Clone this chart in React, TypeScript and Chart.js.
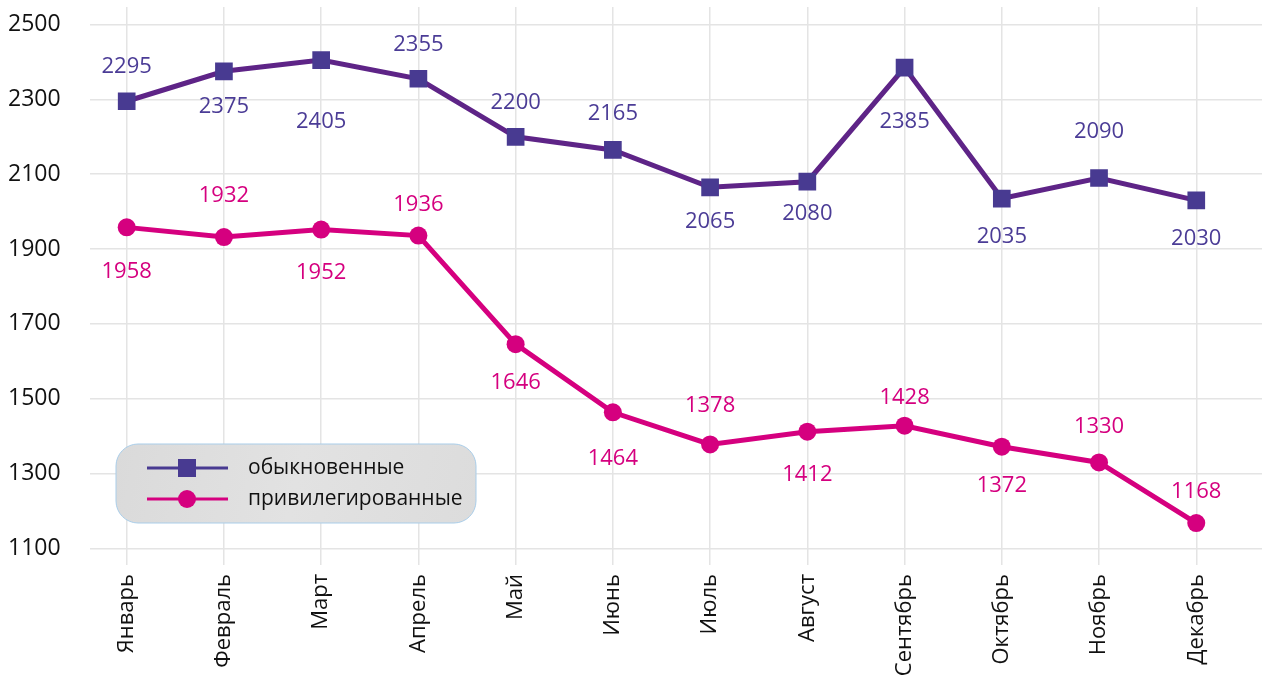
import React, { useEffect, useRef } from "react";
import { Chart, registerables } from "chart.js";

Chart.register(...registerables);

const months = ["Январь", "Февраль", "Март", "Апрель", "Май", "Июнь", "Июль", "Август", "Сентябрь", "Октябрь", "Ноябрь", "Декабрь"];
const ordinary = [2295, 2375, 2405, 2355, 2200, 2165, 2065, 2080, 2385, 2035, 2090, 2030];
const preferred = [1958, 1932, 1952, 1936, 1646, 1464, 1378, 1412, 1428, 1372, 1330, 1168];
const yTicks = [1100, 1300, 1500, 1700, 1900, 2100, 2300, 2500];
const seriesNames = ["обыкновенные", "привилегированные"];

// layout only: vertical pixel offset of each value label from its point
const ordinaryLabelDy = [-36, 34, 60, -36, -36, -38, 33, 30, 52, 36, -48, 37];
const preferredLabelDy = [43, -43, 41, -33, 37, 45, -40, 41, -30, 37, -37, -33];

const FONT = "'Open Sans', 'Noto Sans', sans-serif";
const PURPLE_LINE = "#5e2487";
const PURPLE_MARK = "#483a91";
const PURPLE_TEXT = "#4b3c96";
const PINK = "#d5007f";
const GRID = "#e4e4e4";

const valueLabels = {
  id: "valueLabels",
  afterDatasetsDraw(chart: any) {
    const ctx = chart.ctx;
    const offsets = [ordinaryLabelDy, preferredLabelDy];
    const colors = [PURPLE_TEXT, PINK];
    ctx.save();
    ctx.font = `22px ${FONT}`;
    ctx.textAlign = "center";
    ctx.textBaseline = "alphabetic";
    chart.data.datasets.forEach((ds: any, i: number) => {
      const meta = chart.getDatasetMeta(i);
      ctx.fillStyle = colors[i];
      meta.data.forEach((pt: any, j: number) => {
        const v = ds.data[j].y;
        ctx.fillText(String(v), pt.x, pt.y + offsets[i][j] + 8);
      });
    });
    ctx.restore();
  },
};

const boxLegend = {
  id: "boxLegend",
  afterDraw(chart: any) {
    const ctx = chart.ctx;
    const x = 116, y = 444, w = 360, h = 79, r = 22;
    ctx.save();
    ctx.beginPath();
    ctx.roundRect(x, y, w, h, r);
    const g = ctx.createLinearGradient(x, y, x + w, y + h);
    g.addColorStop(0, "#dadada");
    g.addColorStop(0.5, "#e2e2e2");
    g.addColorStop(1, "#dcdcdc");
    ctx.fillStyle = g;
    ctx.fill();
    ctx.lineWidth = 1;
    ctx.strokeStyle = "#a9cde9";
    ctx.stroke();

    const rows = [468, 499];
    const lineColors = [PURPLE_MARK, PINK];
    rows.forEach((ry, i) => {
      ctx.beginPath();
      ctx.moveTo(147, ry);
      ctx.lineTo(228, ry);
      ctx.lineWidth = 3;
      ctx.strokeStyle = lineColors[i];
      ctx.stroke();
      ctx.fillStyle = lineColors[i];
      if (i === 0) {
        ctx.fillRect(187 - 9, ry - 9, 18, 18);
      } else {
        ctx.beginPath();
        ctx.arc(187, ry, 9, 0, Math.PI * 2);
        ctx.fill();
      }
      ctx.fillStyle = "#111";
      ctx.font = `21px ${FONT}`;
      ctx.textAlign = "left";
      ctx.textBaseline = "middle";
      ctx.fillText(seriesNames[i], 248, ry);
    });
    ctx.restore();
  },
};

export default function App() {
  const ref = useRef<HTMLCanvasElement>(null);

  useEffect(() => {
    document.body.style.margin = "0";
    const canvas = ref.current;
    if (!canvas) return;
    const chart = new Chart(canvas, {
      type: "line",
      data: {
        datasets: [
          {
            label: seriesNames[0],
            data: ordinary.map((v, i) => ({ x: i, y: v })),
            borderColor: PURPLE_LINE,
            borderWidth: 5,
            backgroundColor: PURPLE_MARK,
            pointStyle: "rect",
            pointRadius: 12.5,
            pointBorderWidth: 0,
            pointBackgroundColor: PURPLE_MARK,
            tension: 0,
          },
          {
            label: seriesNames[1],
            data: preferred.map((v, i) => ({ x: i, y: v })),
            borderColor: PINK,
            borderWidth: 5,
            backgroundColor: PINK,
            pointStyle: "circle",
            pointRadius: 9,
            pointBorderWidth: 0,
            pointBackgroundColor: PINK,
            tension: 0,
          },
        ],
      },
      options: {
        responsive: false,
        animation: false,
        layout: { autoPadding: false, padding: { left: 8, top: 7, right: 0, bottom: 0 } },
        plugins: { legend: { display: false }, tooltip: { enabled: false } },
        scales: {
          x: {
            type: "linear",
            min: -0.3774,
            max: 11.676,
            afterBuildTicks: (s: any) => {
              s.ticks = months.map((_, i) => ({ value: i }));
            },
            afterFit: (s: any) => {
              s.height = 126.5;
              s.paddingLeft = 0;
              s.paddingRight = 0;
            },
            ticks: {
              callback: (v: any) => months[v],
              autoSkip: false,
              minRotation: 90,
              maxRotation: 90,
              padding: 9,
              color: "#111",
              font: { family: FONT, size: 22 },
            },
            grid: { color: GRID, lineWidth: 1.5, tickLength: 16.5 },
            border: { display: false },
          },
          y: {
            min: 1100,
            max: 2546.8,
            afterBuildTicks: (s: any) => {
              s.ticks = yTicks.map((v) => ({ value: v }));
            },
            afterFit: (s: any) => {
              s.width = 82;
              s.paddingTop = 0;
              s.paddingBottom = 0;
            },
            ticks: {
              callback: (v: any) => String(v),
              crossAlign: "far",
              padding: 0,
              color: "#111",
              font: { family: FONT, size: 23 },
            },
            grid: { color: GRID, lineWidth: 1.5, drawTicks: false },
            border: { display: false },
          },
        },
      },
      plugins: [valueLabels, boxLegend],
    } as any);
    return () => chart.destroy();
  }, []);

  return (
    <div style={{ width: 1262, height: 675 }}>
      <canvas ref={ref} width={1262} height={675} style={{ display: "block" }} />
    </div>
  );
}
